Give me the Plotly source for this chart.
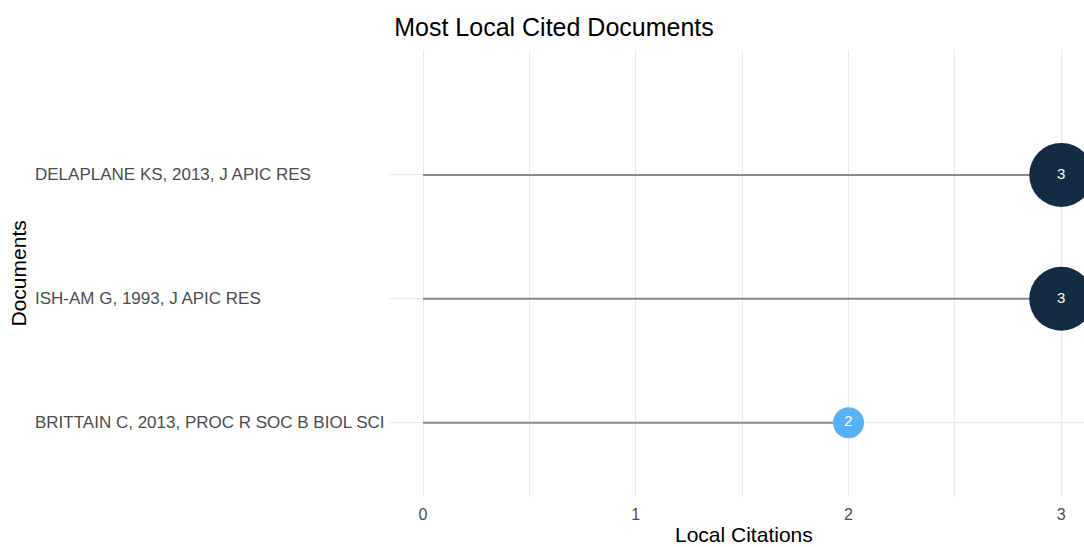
import plotly.graph_objects as go

# Most locally cited documents and their local citation counts
documents = [
    "BRITTAIN C, 2013, PROC R SOC B BIOL SCI",
    "ISH-AM G, 1993, J APIC RES",
    "DELAPLANE KS, 2013, J APIC RES",
]
citations = [2, 3, 3]
x_ticks = [0, 1, 2, 3]

vmin, vmax = min(citations), max(citations)
FONT = "Liberation Sans, Arial"

# Marker diameter grows with area between the smallest and largest count
d_min, d_max = 31, 64
def diameter(v):
    t = (v - vmin) / (vmax - vmin) if vmax > vmin else 1
    return (d_min ** 2 + t * (d_max ** 2 - d_min ** 2)) ** 0.5

sizes = [diameter(v) for v in citations]

# Stems from zero to each count
seg_x, seg_y = [], []
for doc, v in zip(documents, citations):
    seg_x += [0, v, None]
    seg_y += [doc, doc, None]

fig = go.Figure()
fig.add_trace(go.Scatter(
    x=seg_x, y=seg_y, mode="lines",
    line=dict(color="#8a8a8a", width=2),
    hoverinfo="skip", showlegend=False,
))
fig.add_trace(go.Scatter(
    x=citations, y=documents, mode="markers+text",
    marker=dict(
        size=sizes, color=citations,
        colorscale=[[0, "#56B1F7"], [1, "#132B43"]],
        cmin=vmin, cmax=vmax, opacity=1,
        line=dict(width=0), showscale=False,
    ),
    text=[str(v) for v in citations],
    textposition="middle center",
    textfont=dict(color="white", size=15, family=FONT),
    showlegend=False,
))

# Left-aligned document labels
for doc in documents:
    fig.add_annotation(
        x=0, xref="paper", xshift=-356, xanchor="left",
        y=doc, yref="y", text=doc, showarrow=False,
        font=dict(size=17, color="#4d4d4d", family=FONT),
    )

# Axis titles
fig.add_annotation(
    x=0, xref="paper", xshift=-371, xanchor="center",
    y=0.5, yref="paper", text="Documents", textangle=-90, showarrow=False,
    font=dict(size=21, color="#000000", family=FONT),
)
fig.add_annotation(
    x=0.5, xref="paper", xshift=7, xanchor="center",
    y=0, yref="paper", yshift=-37, yanchor="middle",
    text="Local Citations", showarrow=False,
    font=dict(size=21, color="#000000", family=FONT),
)

fig.update_layout(
    width=1084, height=547,
    margin=dict(l=389, r=0, t=50, b=50),
    paper_bgcolor="white", plot_bgcolor="white",
    font=dict(family=FONT, color="#000000"),
    title=dict(
        text="Most Local Cited Documents", x=554 / 1084, xanchor="center",
        y=1 - 27 / 547, yanchor="middle", font=dict(size=25, color="#000000"),
    ),
    xaxis=dict(
        range=[-0.16, 3.107], tickvals=x_ticks, ticktext=[str(t) for t in x_ticks],
        showgrid=True, gridcolor="#e9e9e9", gridwidth=1.2,
        minor=dict(dtick=0.5, showgrid=True, gridcolor="#e9e9e9", gridwidth=1),
        zeroline=False, showline=False, ticks="outside", ticklen=3,
        tickcolor="rgba(0,0,0,0)",
        tickfont=dict(size=16, color="#4d4d4d"),
    ),
    yaxis=dict(
        categoryorder="array", categoryarray=documents,
        range=[-0.6, 2.0 + 1.008],
        showgrid=True, gridcolor="#e9e9e9", gridwidth=1.2,
        zeroline=False, showline=False, ticks="", showticklabels=False,
    ),
)

fig.write_html("out.html")
